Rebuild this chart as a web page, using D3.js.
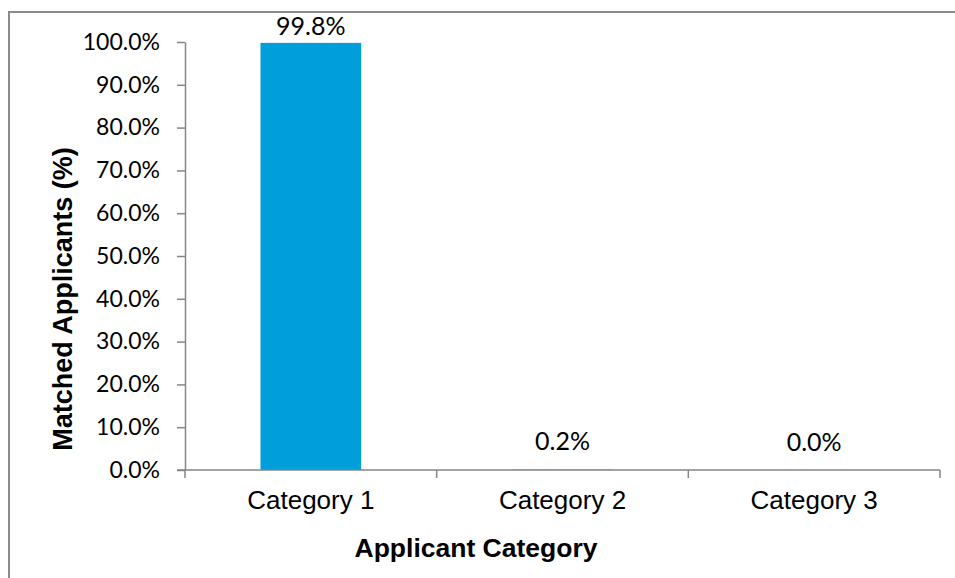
<!DOCTYPE html>
<html>
<head>
<meta charset="utf-8">
<script src="https://cdn.jsdelivr.net/npm/d3@7"></script>
<style>
  html, body { margin: 0; padding: 0; background: #fff; }
  svg { display: block; }
</style>
</head>
<body>
<svg id="chart" width="955" height="578"></svg>
<script>
// Share of matched applicants per applicant category
const categories = ["Category 1", "Category 2", "Category 3"];
const matchedPct = [99.8, 0.2, 0.0];
const barColors = ["#009FDB", "#FFC000", "#A5A5A5"];
const yTicks = [0, 10, 20, 30, 40, 50, 60, 70, 80, 90, 100];

const W = 955, H = 578;
const plot = { left: 185, right: 940, top: 42, bottom: 470 };

const svg = d3.select("#chart");

// outer chart-area frame (runs off the right and bottom edges)
svg.append("path")
  .attr("d", `M9,${H + 2} L9,12 L${W + 2},12`)
  .attr("fill", "none")
  .attr("stroke", "#8C8C8C")
  .attr("stroke-width", 2);

const x = d3.scaleBand()
  .domain(categories)
  .range([plot.left, plot.right])
  .paddingInner(0.6)
  .paddingOuter(0.3);

const y = d3.scaleLinear()
  .domain([0, 100])
  .range([plot.bottom, plot.top]);

const axisColor = "#868686";
const tickFont = "Lato, 'Open Sans', sans-serif";
const arial = "'Liberation Sans', Arial, sans-serif";

// y axis
const yAxis = svg.append("g")
  .attr("transform", `translate(${plot.left},0)`)
  .call(d3.axisLeft(y).tickValues(yTicks).tickSize(8).tickSizeOuter(0)
    .tickFormat(d => d.toFixed(1) + "%"));
yAxis.select(".domain").attr("stroke", axisColor).attr("stroke-width", 1.5);
yAxis.selectAll(".tick line").attr("stroke", axisColor).attr("stroke-width", 1.5);
yAxis.selectAll(".tick text")
  .attr("x", -25)
  .attr("fill", "#000")
  .style("font-family", tickFont)
  .style("font-size", "23px");

// bars
svg.append("g").selectAll("rect")
  .data(categories)
  .join("rect")
  .attr("x", d => x(d))
  .attr("width", x.bandwidth())
  .attr("y", (d, i) => y(matchedPct[i]))
  .attr("height", (d, i) => y(0) - y(matchedPct[i]))
  .attr("fill", (d, i) => barColors[i]);

// x axis with category boundary ticks
const xg = svg.append("g").attr("transform", `translate(0,${plot.bottom})`);
xg.append("line")
  .attr("x1", plot.left - 8).attr("x2", plot.right)
  .attr("y1", 0).attr("y2", 0)
  .attr("stroke", axisColor).attr("stroke-width", 1.5);
const bounds = d3.range(categories.length + 1)
  .map(i => plot.left + i * (plot.right - plot.left) / categories.length);
xg.selectAll("line.b")
  .data(bounds)
  .join("line")
  .attr("class", "b")
  .attr("x1", d => d).attr("x2", d => d)
  .attr("y1", 0).attr("y2", 8)
  .attr("stroke", axisColor).attr("stroke-width", 1.5);
xg.selectAll("text")
  .data(categories)
  .join("text")
  .attr("x", d => x(d) + x.bandwidth() / 2)
  .attr("y", 39)
  .attr("text-anchor", "middle")
  .style("font-family", arial)
  .style("font-size", "26px")
  .text(d => d);

// value labels above bars
svg.append("g").selectAll("text")
  .data(categories)
  .join("text")
  .attr("x", d => x(d) + x.bandwidth() / 2)
  .attr("y", (d, i) => Math.max(y(matchedPct[i]) - 19, plot.top - 7))
  .attr("text-anchor", "middle")
  .style("font-family", tickFont)
  .style("font-size", "25px")
  .text((d, i) => matchedPct[i].toFixed(1) + "%");

// axis titles
svg.append("text")
  .attr("x", 476)
  .attr("y", 557)
  .attr("text-anchor", "middle")
  .style("font-family", arial)
  .style("font-weight", "bold")
  .style("font-size", "26.5px")
  .text("Applicant Category");

svg.append("text")
  .attr("transform", "translate(72,299) rotate(-90)")
  .attr("text-anchor", "middle")
  .style("font-family", arial)
  .style("font-weight", "bold")
  .style("font-size", "27px")
  .text("Matched Applicants (%)");
</script>
</body>
</html>
